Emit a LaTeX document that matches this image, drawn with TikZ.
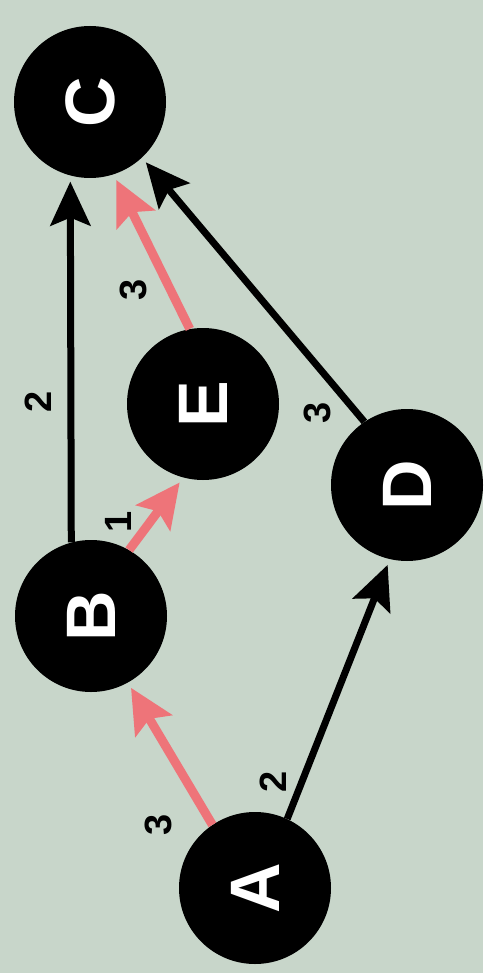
\documentclass[tikz,border=0pt]{standalone}
\usepackage{fontspec}
\setsansfont{Liberation Sans}
\usetikzlibrary{arrows.meta}
\definecolor{paper}{HTML}{C8D6CA}
\definecolor{pathcolor}{HTML}{EE7479}
\tikzset{
  graph vertex/.style={circle,fill=black,minimum size=152pt,inner sep=0pt,text=white,
    font=\sffamily\bfseries\fontsize{70}{70}\selectfont},
  graph edge/.style={black,line width=7pt,shorten >=6pt,-{Stealth[length=44pt,width=40pt,inset=8pt]}},
  graph path/.style={pathcolor,line width=9pt,shorten >=6pt,-{Stealth[length=44pt,width=42pt,inset=8pt]}},
  graph weight/.style={font=\sffamily\bfseries\fontsize{38}{38}\selectfont,inner sep=0pt}
}

\begin{document}
\begin{tikzpicture}[x=1pt,y=-1pt]
  \fill[paper] (0,0) rectangle (483,973);
  \useasboundingbox (0,0) rectangle (483,973);
  % vertices
  \node[graph vertex] (C) at (90,102) {\rotatebox{90}{C}};
  \node[graph vertex] (E) at (203,404) {\rotatebox{90}{E}};
  \node[graph vertex] (B) at (91,616) {\rotatebox{90}{B}};
  \node[graph vertex] (D) at (407,485) {\rotatebox{90}{D}};
  \node[graph vertex] (A) at (255,888) {\rotatebox{90}{A}};
  % edges
  \draw[graph path] (A.124) -- (B.299);
  \draw[graph edge] (A.65) -- (D.257);
  \draw[graph edge] (B.105) -- (C.255);
  \draw[graph path] (B.60) -- (E.255);
  \draw[graph path] (E.100) -- (C.288);
  \draw[graph edge] (D.124) -- (C.313);
  % weights
  \node[graph weight] (wab) at (158,825) {\rotatebox{90}{3}};
  \node[graph weight] (wad) at (273,782) {\rotatebox{90}{2}};
  \node[graph weight] (wbc) at (38,402) {\rotatebox{90}{2}};
  \node[graph weight] (wbe) at (118,522) {\rotatebox{90}{1}};
  \node[graph weight] (wec) at (133,290) {\rotatebox{90}{3}};
  \node[graph weight] (wdc) at (317,413) {\rotatebox{90}{3}};
\end{tikzpicture}
\end{document}
